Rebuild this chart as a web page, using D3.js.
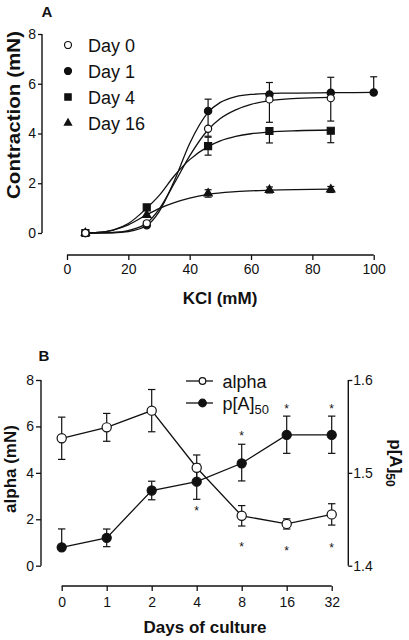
<!DOCTYPE html>
<html><head><meta charset="utf-8">
<script src="https://cdn.jsdelivr.net/npm/d3@7/dist/d3.min.js"></script>
<style>
html,body{margin:0;padding:0;background:#fff;}
svg{display:block;font-family:"Liberation Sans",Arial,sans-serif;}
</style></head>
<body>
<svg id="c" width="409" height="640"></svg>
<script>
// ---------- Panel A data ----------
const kclTicks = [0, 20, 40, 60, 80, 100];
const contrTicks = [0, 2, 4, 6, 8];
const seriesNames = ["Day 0", "Day 1", "Day 4", "Day 16"];

const day0X = [6, 26, 46, 66, 86];
const day0Y = [0, 0.39, 4.19, 5.37, 5.42];
const day0ErrHi = [0, 0, 0.7, 0, 0];
const day0ErrLo = [0, 0, 0.3, 0.92, 0.92];

const day1X = [6, 26, 46, 66, 86, 100];
const day1Y = [0, 0.31, 4.9, 5.57, 5.64, 5.65];
const day1ErrHi = [0, 0, 0.48, 0.48, 0.62, 0.63];
const day1ErrLo = [0, 0, 0, 0, 0, 0];

const day4X = [6, 26, 46, 66, 86];
const day4Y = [0, 1.03, 3.49, 4.1, 4.11];
const day4ErrHi = [0, 0, 0.36, 0, 0];
const day4ErrLo = [0, 0, 0.36, 0.48, 0.48];

const day16X = [6, 26, 46, 66, 86];
const day16Y = [0, 0.72, 1.59, 1.73, 1.75];
const day16ErrHi = [0, 0, 0.15, 0.12, 0.12];
const day16ErrLo = [0, 0, 0.15, 0.12, 0.12];

// fitted curves
const fitDay0 = [[6,0],[15,0.02],[20,0.1],[26,0.4],[30,0.95],[35,2.0],[40,3.1],[46,4.15],[50,4.6],[55,4.95],[60,5.17],[66,5.32],[75,5.41],[86,5.45]];
const fitDay1 = [[6,0],[15,0.01],[20,0.06],[26,0.3],[30,0.85],[35,2.1],[40,3.6],[46,4.85],[50,5.25],[55,5.48],[60,5.57],[70,5.62],[86,5.64],[100,5.65]];
const fitDay4 = [[6,0],[10,0.02],[15,0.12],[20,0.38],[26,1.0],[30,1.5],[35,2.3],[40,2.95],[46,3.47],[50,3.7],[55,3.88],[60,3.99],[66,4.06],[75,4.11],[86,4.14]];
const fitDay16 = [[6,0],[10,0.02],[15,0.12],[20,0.33],[26,0.73],[30,0.98],[35,1.22],[40,1.4],[46,1.55],[55,1.66],[66,1.72],[86,1.76]];

// ---------- Panel B data ----------
const days = ["0", "1", "2", "4", "8", "16", "32"];
const alphaTicks = [0, 2, 4, 6, 8];
const pTicks = [1.4, 1.5, 1.6];
const alphaVals = [5.49, 5.96, 6.68, 4.22, 2.15, 1.80, 2.21];
const alphaErr = [0.91, 0.6, 0.91, 0.55, 0.44, 0.22, 0.46];
const pVals = [1.4198, 1.430, 1.481, 1.4905, 1.5103, 1.5408, 1.5408];
const pErrHi = [0.0198, 0.0095, 0.010, 0.019, 0.0205, 0.0203, 0.0203];
const pErrLo = [0, 0.0095, 0.010, 0.019, 0.0190, 0.0198, 0.0198];
// significance stars (position in alpha units)
const starDays = ["4", "8", "8", "16", "16", "32", "32"];
const starPos = [2.5, 5.72, 0.97, 6.92, 0.76, 6.92, 0.89];

const svg = d3.select("#c");
const FONT = "'Liberation Sans', Arial, sans-serif";

// ================= Panel A =================
const xA = d3.scaleLinear().domain([0, 100]).range([67, 373.7]);
const yA = d3.scaleLinear().domain([0, 8]).range([233, 34]);

const gA = svg.append("g");
const axXA = gA.append("g").attr("transform", "translate(0,255)")
  .call(d3.axisBottom(xA).tickValues(kclTicks).tickSize(5).tickPadding(4).tickFormat(d3.format("d")));
const axYA = gA.append("g").attr("transform", "translate(42,0)")
  .call(d3.axisLeft(yA).tickValues(contrTicks).tickSize(4).tickPadding(2).tickFormat(d3.format("d")));
[axXA, axYA].forEach(a => {
  a.select(".domain").attr("stroke", "#111").attr("stroke-width", 1.4);
  a.selectAll(".tick line").attr("stroke", "#111").attr("stroke-width", 1.3);
  a.selectAll("text").attr("font-size", 14).attr("font-family", FONT).attr("fill", "#111");
});
axXA.select(".domain").attr("d", `M${xA(0)},0H${xA(100)}`);
axYA.select(".domain").attr("d", `M0,${yA(8)}V${yA(0)}`);

gA.append("text").attr("x", 41.5).attr("y", 17).text("A")
  .attr("font-size", 15).attr("font-weight", "bold").attr("font-family", FONT).attr("fill", "#111");
gA.append("text").attr("x", 220).attr("y", 304).attr("text-anchor", "middle")
  .text("KCl (mM)").attr("font-size", 17).attr("font-weight", "bold").attr("font-family", FONT).attr("fill", "#111");
gA.append("text").attr("transform", "translate(20,115) rotate(-90)").attr("text-anchor", "middle")
  .attr("textLength", 168).attr("lengthAdjust", "spacingAndGlyphs")
  .text("Contraction (mN)").attr("font-size", 18).attr("font-weight", "bold").attr("font-family", FONT).attr("fill", "#111");

const lineA = d3.line().x(d => xA(d[0])).y(d => yA(d[1])).curve(d3.curveMonotoneX);

const seriesA = [
  {name: "Day 16", x: day16X, y: day16Y, hi: day16ErrHi, lo: day16ErrLo, fit: fitDay16, sym: d3.symbolTriangle, size: 30, fill: "#111"},
  {name: "Day 4", x: day4X, y: day4Y, hi: day4ErrHi, lo: day4ErrLo, fit: fitDay4, sym: d3.symbolSquare, size: 49, fill: "#111"},
  {name: "Day 1", x: day1X, y: day1Y, hi: day1ErrHi, lo: day1ErrLo, fit: fitDay1, sym: d3.symbolCircle, size: 42, fill: "#111"},
  {name: "Day 0", x: day0X, y: day0Y, hi: day0ErrHi, lo: day0ErrLo, fit: fitDay0, sym: d3.symbolCircle, size: 40, fill: "#fff"}
];

seriesA.forEach(s => {
  gA.append("path").attr("d", lineA(s.fit)).attr("fill", "none").attr("stroke", "#111").attr("stroke-width", 1.3);
});
seriesA.forEach(s => {
  const g = gA.append("g");
  s.x.forEach((xv, i) => {
    const cx = xA(xv);
    if (s.hi[i] > 0) {
      const t = yA(s.y[i] + s.hi[i]);
      g.append("line").attr("x1", cx).attr("x2", cx).attr("y1", yA(s.y[i])).attr("y2", t).attr("stroke", "#111").attr("stroke-width", 1.2);
      g.append("line").attr("x1", cx - 3.5).attr("x2", cx + 3.5).attr("y1", t).attr("y2", t).attr("stroke", "#111").attr("stroke-width", 1.2);
    }
    if (s.lo[i] > 0) {
      const b = yA(s.y[i] - s.lo[i]);
      g.append("line").attr("x1", cx).attr("x2", cx).attr("y1", yA(s.y[i])).attr("y2", b).attr("stroke", "#111").attr("stroke-width", 1.2);
      g.append("line").attr("x1", cx - 3.5).attr("x2", cx + 3.5).attr("y1", b).attr("y2", b).attr("stroke", "#111").attr("stroke-width", 1.2);
    }
  });
  s.x.forEach((xv, i) => {
    g.append("path").attr("d", d3.symbol().type(s.sym).size(s.size)())
      .attr("transform", `translate(${xA(xv)},${yA(s.y[i])})`)
      .attr("fill", s.fill).attr("stroke", "#111").attr("stroke-width", 1.2);
  });
});

// Legend A
const legA = [
  {sym: d3.symbolCircle, size: 38, fill: "#fff"},
  {sym: d3.symbolCircle, size: 38, fill: "#111"},
  {sym: d3.symbolSquare, size: 40, fill: "#111"},
  {sym: d3.symbolTriangle, size: 22, fill: "#111"}
];
seriesNames.forEach((n, i) => {
  const cy = 45 + i * 26;
  gA.append("path").attr("d", d3.symbol().type(legA[i].sym).size(legA[i].size)())
    .attr("transform", `translate(68,${cy})`).attr("fill", legA[i].fill).attr("stroke", "#111").attr("stroke-width", 1.2);
  gA.append("text").attr("x", 88).attr("y", cy + 7).text(n)
    .attr("font-size", 18).attr("font-family", FONT).attr("fill", "#111");
});

// ================= Panel B =================
const xB = d3.scalePoint().domain(days).range([61.7, 331.7]);
const yB = d3.scaleLinear().domain([0, 8]).range([565.7, 380]);
const yP = d3.scaleLinear().domain([1.4, 1.6]).range([565.7, 380]);

const gB = svg.append("g");
const axXB = gB.append("g").attr("transform", "translate(0,586)")
  .call(d3.axisBottom(xB).tickSize(5).tickPadding(6));
const axYB = gB.append("g").attr("transform", "translate(41,0)")
  .call(d3.axisLeft(yB).tickValues(alphaTicks).tickSize(5).tickPadding(2).tickFormat(d3.format("d")));
const axPB = gB.append("g").attr("transform", "translate(348.3,0)")
  .call(d3.axisRight(yP).tickValues(pTicks).tickSize(4).tickPadding(1).tickFormat(d3.format(".1f")));
[axXB, axYB, axPB].forEach(a => {
  a.select(".domain").attr("stroke", "#111").attr("stroke-width", 1.4);
  a.selectAll(".tick line").attr("stroke", "#111").attr("stroke-width", 1.3);
  a.selectAll("text").attr("font-size", 14).attr("font-family", FONT).attr("fill", "#111");
});
axXB.select(".domain").attr("d", `M${xB("0")},0H${xB("32")}`);
axYB.select(".domain").attr("d", `M0,${yB(8)}V${yB(0)}`);
axPB.select(".domain").attr("d", `M0,${yP(1.6)}V${yP(1.4)}`);

gB.append("text").attr("x", 38.5).attr("y", 361).text("B")
  .attr("font-size", 15).attr("font-weight", "bold").attr("font-family", FONT).attr("fill", "#111");
gB.append("text").attr("x", 205).attr("y", 633).attr("text-anchor", "middle")
  .text("Days of culture").attr("font-size", 17).attr("font-weight", "bold").attr("font-family", FONT).attr("fill", "#111");
gB.append("text").attr("transform", "translate(15.5,469) rotate(-90)").attr("text-anchor", "middle")
  .text("alpha (mN)").attr("font-size", 17).attr("font-weight", "bold").attr("font-family", FONT).attr("fill", "#111");
const rt = gB.append("text").attr("transform", "translate(389.5,463) rotate(90)").attr("text-anchor", "middle")
  .attr("font-size", 17).attr("font-weight", "bold").attr("font-family", FONT).attr("fill", "#111");
rt.append("tspan").text("p[A]");
rt.append("tspan").attr("font-size", 12).attr("dy", 4).text("50");

const lineAlpha = d3.line().x((d, i) => xB(days[i])).y(d => yB(d));
const lineP = d3.line().x((d, i) => xB(days[i])).y(d => yP(d));
gB.append("path").attr("d", lineP(pVals)).attr("fill", "none").attr("stroke", "#111").attr("stroke-width", 1.3);
gB.append("path").attr("d", lineAlpha(alphaVals)).attr("fill", "none").attr("stroke", "#111").attr("stroke-width", 1.3);

function bar(g, cx, y0, y1) {
  g.append("line").attr("x1", cx).attr("x2", cx).attr("y1", y0).attr("y2", y1).attr("stroke", "#111").attr("stroke-width", 1.2);
  g.append("line").attr("x1", cx - 3.7).attr("x2", cx + 3.7).attr("y1", y1).attr("y2", y1).attr("stroke", "#111").attr("stroke-width", 1.2);
}
days.forEach((d, i) => {
  const cx = xB(d);
  bar(gB, cx, yB(alphaVals[i]), yB(alphaVals[i] + alphaErr[i]));
  bar(gB, cx, yB(alphaVals[i]), yB(alphaVals[i] - alphaErr[i]));
  if (pErrHi[i] > 0) bar(gB, cx, yP(pVals[i]), yP(pVals[i] + pErrHi[i]));
  if (pErrLo[i] > 0) bar(gB, cx, yP(pVals[i]), yP(pVals[i] - pErrLo[i]));
});
days.forEach((d, i) => {
  gB.append("circle").attr("cx", xB(d)).attr("cy", yP(pVals[i])).attr("r", 4.6)
    .attr("fill", "#111").attr("stroke", "#111").attr("stroke-width", 1.1);
  gB.append("circle").attr("cx", xB(d)).attr("cy", yB(alphaVals[i])).attr("r", 4.6)
    .attr("fill", "#fff").attr("stroke", "#111").attr("stroke-width", 1.2);
});
starDays.forEach((d, i) => {
  gB.append("text").attr("x", xB(d)).attr("y", yB(starPos[i])).attr("dy", "0.62em")
    .attr("text-anchor", "middle").attr("font-size", 12).attr("font-family", FONT)
    .attr("fill", "#111").text("*");
});

// Legend B
const legB = [{label: "alpha", fill: "#fff", r: 3.3, cy: 381}, {label: "p[A]", fill: "#111", r: 3.8, cy: 403}];
legB.forEach((l, i) => {
  gB.append("line").attr("x1", 186).attr("x2", 213).attr("y1", l.cy).attr("y2", l.cy).attr("stroke", "#111").attr("stroke-width", 1.3);
  gB.append("circle").attr("cx", 202.5).attr("cy", l.cy).attr("r", l.r).attr("fill", l.fill).attr("stroke", "#111").attr("stroke-width", 1.2);
  const t = gB.append("text").attr("x", 222.5).attr("y", l.cy + 6.5).attr("font-size", 18).attr("font-family", FONT).attr("fill", "#111");
  t.append("tspan").text(l.label);
  if (i === 1) t.append("tspan").attr("font-size", 13).attr("dy", 4).text("50");
});
</script>
</body></html>
